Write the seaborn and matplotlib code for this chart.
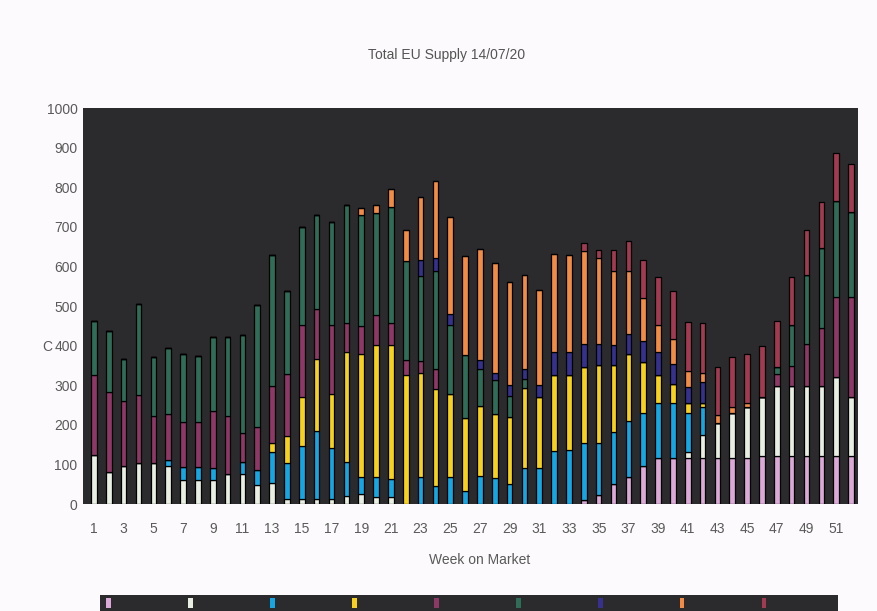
import numpy as np
import matplotlib
matplotlib.use("Agg")
import matplotlib.pyplot as plt
from matplotlib.patches import Patch, Rectangle
import seaborn as sns

# semaine 1..52, valeurs (empilees de bas en haut)
weeks = list(range(1, 53))

pink = [0] * 33 + [10, 23, 50, 68, 96, 117, 117, 117, 117, 117, 117, 117,
                   120, 120, 120, 120, 120, 120, 120]
white = [124, 82, 96, 103, 103, 96, 61, 61, 61, 75, 75, 47, 54, 13, 13, 13, 13, 20,
         25, 18, 18, 0, 0, 0, 0, 0, 0, 0, 0, 0, 0, 0, 0, 0, 0, 0, 0, 0, 0, 0,
         15, 57, 87, 114, 127, 149, 177, 177, 177, 177, 200, 149]
blue = [0, 0, 0, 0, 0, 14, 33, 33, 31, 0, 31, 38, 78, 91, 134, 172, 128, 86,
        42, 50, 46, 0, 67, 46, 67, 33, 71, 65, 50, 92, 92, 134, 136, 145, 132, 133,
        142, 133, 139, 139, 99, 70, 0, 0, 0, 0, 0, 0, 0, 0, 0, 0]
yellow = [0] * 12 + [21, 68, 124, 181, 138, 277, 313, 334, 338, 326, 265, 244, 211,
                     185, 177, 163, 170, 200, 177, 192, 190, 192, 197, 169, 170, 130,
                     70, 48, 25, 12, 0, 0, 0, 0, 0, 0, 0, 0, 0, 0]
plum = [202, 200, 165, 172, 120, 117, 113, 113, 142, 148, 74, 110, 145, 156, 182,
        127, 174, 74, 70, 76, 54, 38, 30, 51] + [0] * 22 + [31, 52, 107, 147, 202, 253]
green = [135, 154, 105, 230, 149, 166, 172, 166, 188, 199, 248, 308, 332, 211, 246,
         236, 259, 299, 279, 258, 295, 249, 215, 248, 175, 159, 93, 85, 53, 23] \
        + [0] * 16 + [17, 103, 175, 203, 243, 215]
navy = [0] * 22 + [38, 32, 28, 0, 23, 19, 27, 26, 32, 59, 57, 57, 52, 50, 49, 53,
                   59, 49, 40, 53] + [0] * 10
orange = [0] * 18 + [18, 20, 45, 79, 160, 194, 245, 250, 280, 276, 260, 238, 240,
                     247, 247, 234, 218, 187, 159, 107, 67, 64, 40, 23, 20, 15, 12] \
         + [0] * 7
red = [0] * 33 + [21, 20, 53, 76, 96, 121, 122, 123, 124, 123, 124, 124, 131, 118,
                  122, 113, 115, 121, 121]

series = [
    (pink, "#dba8d8"),
    (white, "#e9eee2"),
    (blue, "#16a6e2"),
    (yellow, "#f6d21e"),
    (plum, "#8d3866"),
    (green, "#2f6d58"),
    (navy, "#35318c"),
    (orange, "#f28b44"),
    (red, "#a23b52"),
]

sns.set_style("dark")
plt.rcParams["font.family"] = ["Liberation Sans Narrow", "Liberation Sans", "DejaVu Sans"]

fig = plt.figure(figsize=(8.77, 6.11), dpi=100, facecolor="#fcfafc")
ax = fig.add_axes([83 / 877, 1 - 504 / 611, 775 / 877, 396 / 611])
ax.set_facecolor("#2b2b2d")

bottom = np.zeros(len(weeks))
for vals, col in series:
    sns.barplot(x=weeks, y=vals, bottom=bottom.copy(), color=col, saturation=1,
                width=0.38, edgecolor="black", linewidth=0.9, errorbar=None, ax=ax)
    bottom += np.array(vals)

ax.set_ylim(0, 1000)
ax.set_xlim(-0.74, 51.47)
ax.set_yticks(range(0, 1001, 100))
ax.set_xticks(range(0, 52, 2))
ax.set_xticklabels([str(w) for w in weeks[::2]])
ax.tick_params(axis="both", length=0, labelsize=10, labelcolor="#5a5a5a")
ax.tick_params(axis="x", pad=13)
ax.tick_params(axis="y", pad=4)
ax.set_xlabel("")
ax.set_ylabel("")
for s in ax.spines.values():
    s.set_visible(False)

fig.text(447 / 877, 1 - 55 / 611, "Total EU Supply 14/07/20", ha="center", va="center",
         fontsize=10, color="#555555")
fig.text(480 / 877, 1 - 560 / 611, "Week on Market", ha="center", va="center",
         fontsize=10, color="#5a5a5a")
fig.text(47 / 877, 1 - 347 / 611, "C", ha="center", va="center", fontsize=10,
         color="#5a5a5a")

# legende (coupee en bas dans l'original)
fig.patches.append(Rectangle((100 / 877, 0), 738 / 877, 16 / 611,
                             transform=fig.transFigure, facecolor="#2b2b2d",
                             edgecolor="none", zorder=0))
handles = [Patch(facecolor=c, edgecolor="none") for _, c in series]
fig.legend(handles, [""] * len(handles), loc="upper left",
           bbox_to_anchor=(106 / 877, 1 - 597 / 611), ncol=9, frameon=False,
           handlelength=0.35, handleheight=0.7, handletextpad=0.8,
           columnspacing=4.75, borderaxespad=0, borderpad=0, fontsize=10)

fig.savefig("out.png", dpi=100, facecolor=fig.get_facecolor())
